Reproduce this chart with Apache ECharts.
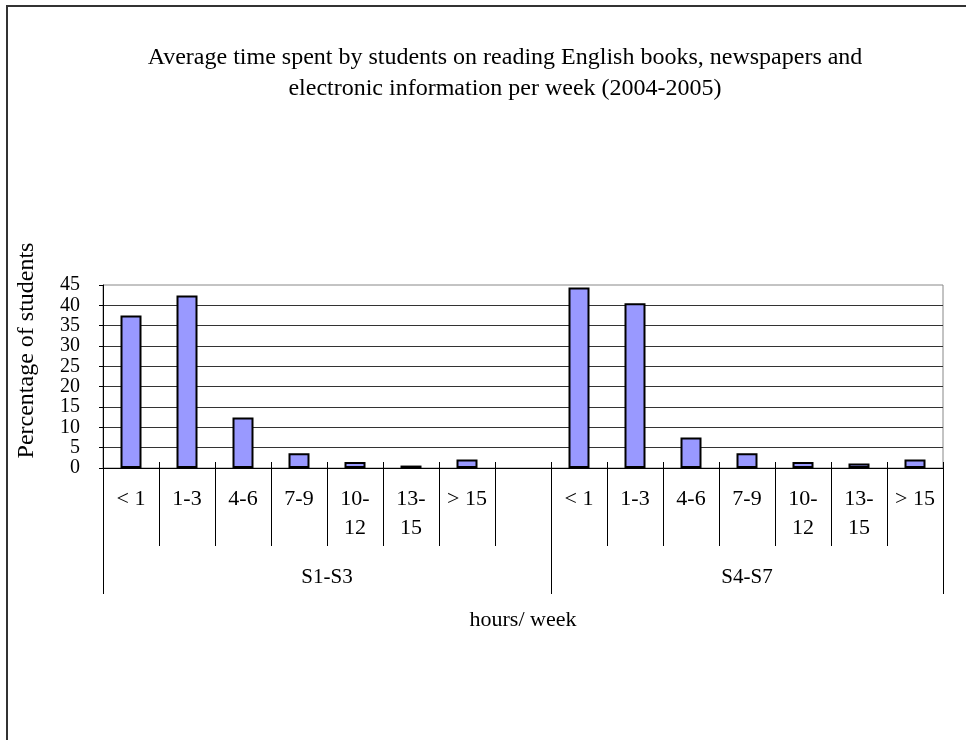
<!DOCTYPE html>
<html>
<head>
<meta charset="utf-8">
<script src="https://cdn.jsdelivr.net/npm/echarts@6/dist/echarts.min.js"></script>
<style>
  html, body { margin: 0; padding: 0; background: #fff; overflow: hidden; width: 966px; height: 740px; }
  #chart { position: absolute; left: 0; top: 0; width: 966px; height: 740px; }
  #frame { position: absolute; left: 6px; top: 5px; width: 990px; height: 760px;
           border-left: 2px solid #333; border-top: 2px solid #333; pointer-events: none; }
</style>
</head>
<body>
<div id="chart"></div>
<div id="frame"></div>
<script>
// Hour bands shown under each school level
const hourBins = ['< 1', '1-3', '4-6', '7-9', '10-\n12', '13-\n15', '> 15'];
// School levels (second row of the category axis)
const levelGroups = ['S1-S3', 'S4-S7'];
// Percentage of students per hour band
const juniorPct = [37.5, 42.4, 12.4, 3.6, 1.5, 0.6, 2.1];
const seniorPct = [44.4, 40.5, 7.5, 3.6, 1.5, 1.1, 2.1];
// Value axis ticks
const yTickMin = 0;
const yTickMax = 45;
const yTickStep = 5;

const FONT = '"Liberation Serif", "Times New Roman", serif';

// One empty slot separates the two school levels
const categories = hourBins.concat([''], hourBins);
const values = juniorPct.concat([null], seniorPct);

// Category index spans [start, end) for each school level
const groupSpans = [
  [0, hourBins.length + 1],
  [hourBins.length + 1, categories.length]
];
const groupStarts = groupSpans.map(s => s[0]);

function groupLabel(value, index) {
  for (let g = 0; g < groupSpans.length; g++) {
    const mid = (groupSpans[g][0] + groupSpans[g][1] - 1) / 2;
    if (Math.floor(mid) === index) {
      // a half-slot centre is drawn with a left pad of one slot width
      return mid % 1 ? '{half|' + levelGroups[g] + '}' : levelGroups[g];
    }
  }
  return '';
}

const chart = echarts.init(document.getElementById('chart'), null, { renderer: 'canvas', width: 966, height: 740 });

const option = {
  animation: false,
  backgroundColor: '#fff',
  title: {
    text: 'Average time spent by students on reading English books, newspapers and\nelectronic information per week (2004-2005)',
    left: 505,
    top: 42,
    textAlign: 'center',
    padding: 0,
    textStyle: { fontFamily: FONT, fontWeight: 'normal', fontSize: 24, lineHeight: 31, color: '#000' }
  },
  grid: {
    left: 103, right: 23, top: 285, bottom: 272,
    show: true, borderColor: '#888', borderWidth: 1, backgroundColor: 'transparent',
    outerBoundsMode: 'none'
  },
  xAxis: [
    {
      type: 'category', position: 'bottom', data: categories, boundaryGap: true,
      axisLine: { show: true, lineStyle: { color: '#000', width: 1 } },
      axisTick: { show: true, interval: 0, length: 78, lineStyle: { color: '#000', width: 1 } },
      axisLabel: { interval: 0, margin: 17, fontFamily: FONT, fontSize: 22, lineHeight: 29, color: '#000' },
      splitLine: { show: false },
      name: 'hours/ week', nameLocation: 'middle', nameGap: 141,
      nameTextStyle: { fontFamily: FONT, fontSize: 22, color: '#000' }
    },
    {
      type: 'category', position: 'bottom', data: categories, boundaryGap: true,
      axisLine: { show: false },
      axisTick: { show: true, interval: 0, inside: true, length: 6, lineStyle: { color: '#000', width: 1 } },
      axisLabel: { show: false },
      splitLine: { show: false }
    },
    {
      type: 'category', position: 'bottom', data: categories, boundaryGap: true,
      axisLine: { show: false },
      axisTick: { show: true, interval: (i) => groupStarts.indexOf(i) >= 0, length: 126, lineStyle: { color: '#000', width: 1 } },
      axisLabel: {
        interval: 0, margin: 99, formatter: groupLabel,
        fontFamily: FONT, fontSize: 21, lineHeight: 21, color: '#000',
        rich: { half: { fontFamily: FONT, fontSize: 21, lineHeight: 21, color: '#000', padding: [0, 0, 0, 56] } }
      },
      splitLine: { show: false }
    }
  ],
  yAxis: {
    type: 'value', min: yTickMin, max: yTickMax, interval: yTickStep,
    axisLine: { show: true, lineStyle: { color: '#000', width: 1 } },
    axisTick: { show: true, length: 4, lineStyle: { color: '#000' } },
    axisLabel: { margin: 23, fontFamily: FONT, fontSize: 20, color: '#000' },
    splitLine: { show: true, showMaxLine: false, lineStyle: { color: '#333', width: 1 } },
    name: 'Percentage of students', nameLocation: 'middle', nameGap: 64,
    nameTextStyle: { fontFamily: FONT, fontSize: 24, color: '#000', padding: [0, 0, 0, 52] }
  },
  series: [{
    type: 'bar', xAxisIndex: 0, data: values, barWidth: 21,
    itemStyle: { color: '#9999ff', borderColor: '#000', borderWidth: 2 }
  }]
};

chart.setOption(option);
</script>
</body>
</html>
